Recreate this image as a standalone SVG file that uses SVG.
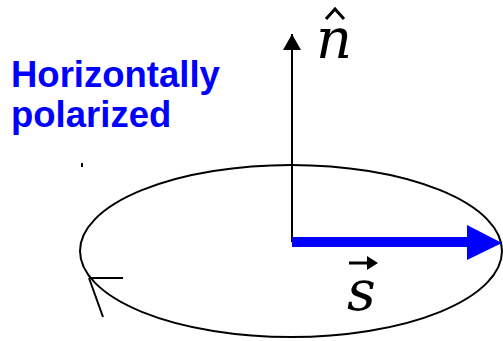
<svg xmlns="http://www.w3.org/2000/svg" width="503" height="341" viewBox="0 0 503 341">
<style>
.lbl{font-family:"Liberation Sans",Arial,sans-serif;font-weight:bold;font-size:36.5px;fill:#0000ff}
.math{font-family:"DejaVu Serif","Liberation Serif",serif;font-style:italic;font-size:56px;fill:#000}
.k{stroke:#000;stroke-width:2;fill:none}
</style>
<defs>
<marker id="ah" markerWidth="16" markerHeight="18" refX="16" refY="9" orient="auto" markerUnits="userSpaceOnUse">
<path d="M0,0 L16,9 L0,18 Z" fill="#000"/>
</marker>
</defs>
<g id="label">
<text class="lbl" x="11" y="87">Horizontally</text>
<text class="lbl" x="11" y="127">polarized</text>
</g>
<g id="ellipse">
<ellipse class="k" cx="291" cy="251" rx="211" ry="86" stroke-width="2.6"/>
<line class="k" x1="82" y1="163" x2="82" y2="167" stroke-width="1"/>
</g>
<g id="connectors">
<line class="k" x1="292" y1="242" x2="292" y2="34" stroke-width="2" marker-end="url(#ah)"/>
<line x1="292" y1="242" x2="470" y2="242" stroke="#0000ff" stroke-width="10"/>
<path d="M467,225 L502,243 L467,260 Z" fill="#0000ff"/>
<line class="k" x1="89" y1="278" x2="123" y2="278"/>
<line class="k" x1="89" y1="278" x2="103" y2="317"/>
</g>
<g id="n-hat">
<text class="math" x="316" y="58">n</text>
<path d="M326,19 L335,9 L344,19" fill="none" stroke="#000" stroke-width="3"/>
</g>
<g id="s-vec">
<text class="math" x="347" y="310">s</text>
<line x1="349" y1="263" x2="370" y2="263" stroke="#000" stroke-width="3"/>
<path d="M367,256 L378,263 L367,270 Z" fill="#000"/>
</g>
</svg>
